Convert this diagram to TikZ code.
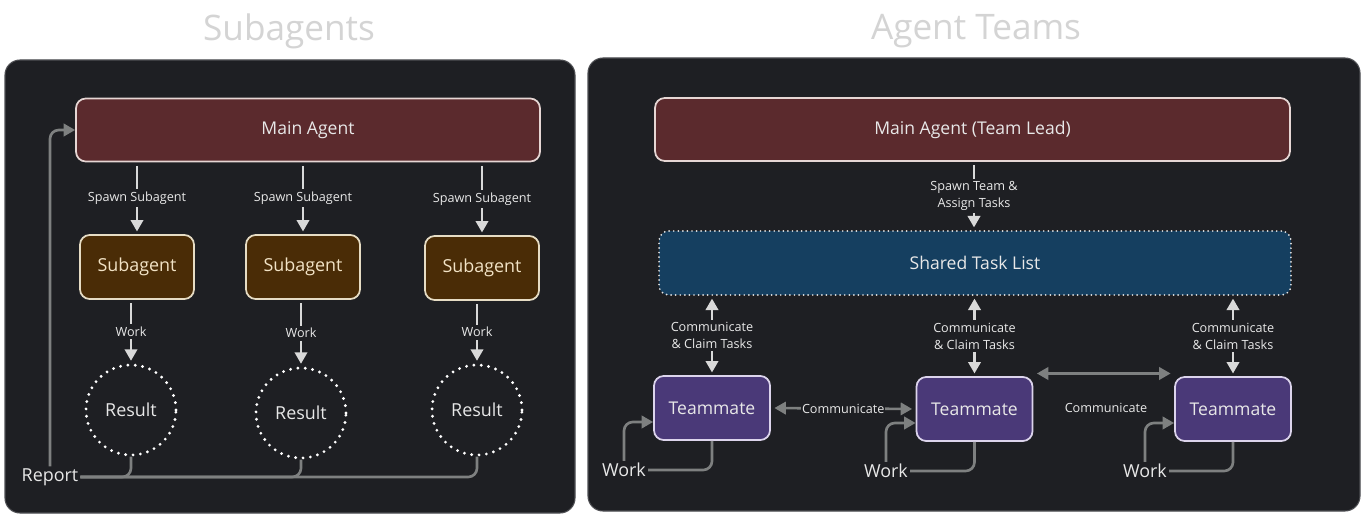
\documentclass[tikz,border=0pt]{standalone}
\usepackage{fontspec}
\setmainfont{Open Sans}
\usepackage{tikz}
\usetikzlibrary{positioning,arrows.meta}

\definecolor{panelbg}{HTML}{1E1F23}
\definecolor{paneledge}{HTML}{4E4F53}
\definecolor{titlegrey}{HTML}{D4D4D4}
\definecolor{mainfill}{HTML}{5B2A2D}
\definecolor{mainedge}{HTML}{E6D6D4}
\definecolor{subfill}{HTML}{4A2C06}
\definecolor{subedge}{HTML}{E6DCC4}
\definecolor{subtext}{HTML}{F2E3C6}
\definecolor{taskfill}{HTML}{153F60}
\definecolor{matefill}{HTML}{4A3978}
\definecolor{mateedge}{HTML}{DCD4EC}
\definecolor{arrowwhite}{HTML}{D9D9D9}
\definecolor{linegrey}{HTML}{7E8080}
\definecolor{textlight}{HTML}{E8E8E8}

\tikzset{
  panel/.style={fill=panelbg, draw=paneledge, line width=0.6pt, rounded corners=8.5pt},
  paneltitle/.style={text=titlegrey, font=\fontsize{20}{23}\selectfont},
  agentbox/.style={draw=mainedge, fill=mainfill, line width=1pt, rounded corners=5.5pt,
    minimum height=1.26cm, text=textlight, font=\fontsize{10}{12}\selectfont},
  subbox/.style={draw=subedge, fill=subfill, line width=1pt, rounded corners=5.5pt,
    minimum width=2.28cm, minimum height=1.28cm, text=subtext, font=\fontsize{10.2}{12}\selectfont},
  resultcirc/.style={circle, draw=white, line width=1.8pt, line cap=round,
    dash pattern=on 0pt off 4.2pt, minimum size=1.8cm, text=textlight, font=\fontsize{10.2}{12}\selectfont},
  tasklist/.style={draw=white!90!black, fill=taskfill, line width=1.1pt, line cap=round,
    dash pattern=on 0pt off 2.6pt, rounded corners=5.5pt, minimum width=12.64cm,
    minimum height=1.28cm, text=textlight, font=\fontsize{10}{12}\selectfont},
  matebox/.style={draw=mateedge, fill=matefill, line width=1pt, rounded corners=5.5pt,
    minimum width=2.32cm, minimum height=1.28cm, text=textlight, font=\fontsize{10}{12}\selectfont},
  lbl/.style={fill=panelbg, text=textlight, inner sep=1.5pt, align=center,
    font=\fontsize{7.2}{9.6}\selectfont},
  biglbl/.style={text=textlight, inner sep=1pt, font=\fontsize{10.2}{12}\selectfont},
  whitearr/.style={draw=arrowwhite, line width=1.5pt, -{Triangle[length=6.5pt,width=7pt]},
    shorten <=2pt, shorten >=1.5pt},
  whitedbl/.style={draw=arrowwhite, line width=1.5pt,
    {Triangle[length=6.5pt,width=7pt]}-{Triangle[length=6.5pt,width=7pt]},
    shorten <=1.5pt, shorten >=1.5pt},
  greyline/.style={draw=linegrey, line width=1.5pt, rounded corners=5pt},
  greyarr/.style={greyline, -{Triangle[length=6.5pt,width=7pt]}},
  greydbl/.style={draw=linegrey, line width=1.5pt,
    {Triangle[length=6.5pt,width=7pt]}-{Triangle[length=6.5pt,width=7pt]},
    shorten <=2pt, shorten >=2pt}
}

\begin{document}
\begin{tikzpicture}[x=0.02cm, y=-0.02cm]
\useasboundingbox[fill=white] (0,0) rectangle (1366,520);

% Subagents
\node[paneltitle] (ttlsub) at (289,31) {Subagents};
\draw[panel] (5,60) rectangle (575,513);

\node[agentbox, minimum width=9.28cm] (lmain) at (308,130) {Main Agent};

\node[subbox] (sub1) at (137,267) {Subagent};
\node[subbox] (sub2) at (303,267) {Subagent};
\node[subbox] (sub3) at (482,268) {Subagent};

\node[resultcirc] (res1) at (131,410) {Result};
\node[resultcirc] (res2) at (301,413) {Result};
\node[resultcirc] (res3) at (477,410) {Result};

\foreach \s/\r in {sub1/res1, sub2/res2, sub3/res3} {
  \draw[whitearr] (lmain.south -| \s) -- node[lbl] {Spawn Subagent} (\s.north);
  \draw[whitearr] (\s.south -| \r) -- node[lbl] {Work} (\r.north);
}

\node[biglbl] (rep) at (50,477) {Report};
\foreach \r in {res1, res2, res3}
  \draw[greyline] (\r.south) |- (rep.east);
\draw[greyarr] (rep.north) |- (lmain.west);

% Agent Teams
\node[paneltitle] (ttlteam) at (976,31) {Agent Teams};
\draw[panel] (588,58) rectangle (1360,511);

\node[agentbox, minimum width=12.7cm] (rmain) at (972.5,129.5) {Main Agent (Team Lead)};
\node[tasklist] (tasks) at (975,263) {Shared Task List};
\draw[whitearr] (rmain.south -| 974,0) -- node[lbl] {Spawn Team \&\\Assign Tasks} (tasks.north -| 974,0);

\node[matebox] (tm1) at (712,408) {Teammate};
\node[matebox] (tm2) at (974.5,409) {Teammate};
\node[matebox] (tm3) at (1233,409) {Teammate};

\foreach \t in {tm1, tm2, tm3}
  \draw[whitedbl] (tasks.south -| \t) -- node[lbl] {Communicate\\\& Claim Tasks} (\t.north);

\draw[greydbl] (tm1.east) -- node[lbl, inner sep=0.5pt] {Communicate} (tm2.west);
\draw[greydbl] ([yshift=1.5pt]tm2.north east) -- ([yshift=1.5pt]tm3.north west);
\node[lbl] (comm3) at (1106,408) {Communicate};

\node[biglbl] (w1) at (624,470) {Work};
\node[biglbl] (w2) at (886,471) {Work};
\node[biglbl] (w3) at (1145,471) {Work};
\foreach \t/\w in {tm1/w1, tm2/w2, tm3/w3} {
  \draw[greyline] (\t.south) |- (\w.east);
  \draw[greyarr] (\w.north) |- ([yshift=-0.28cm]\t.west);
}
\end{tikzpicture}
\end{document}
